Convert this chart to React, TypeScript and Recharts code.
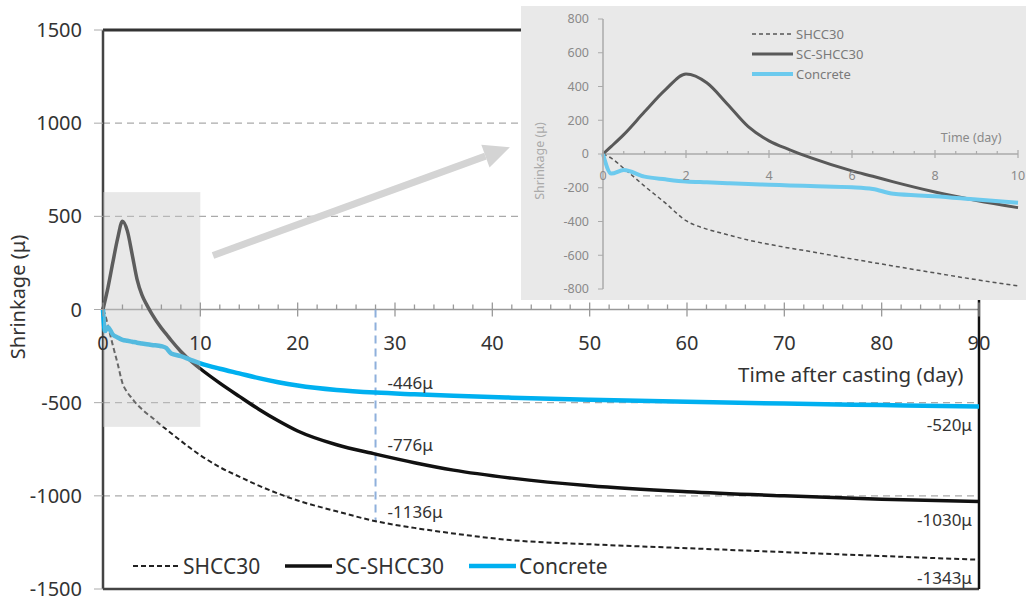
import React from "react";
import {
  LineChart,
  Line,
  XAxis,
  YAxis,
  ReferenceLine,
  ReferenceDot,
  Legend,
} from "recharts";

const FONT = '"Noto Sans", "Open Sans", sans-serif';

// time after casting (day)
const days = [0, 0.2, 0.5, 1, 1.5, 2, 2.5, 3, 3.5, 4, 4.5, 5, 6, 6.5, 7, 8, 9, 10, 12, 14, 16, 18, 20, 24, 28, 32, 36, 42, 50, 60, 70, 80, 90];
// shrinkage (μ)
const shcc30 = [0, -25, -85, -190, -290, -395, -445, -478, -510, -535, -558, -578, -622, -643, -664, -705, -745, -782, -846, -897, -945, -988, -1025, -1083, -1136, -1172, -1202, -1238, -1260, -1281, -1302, -1323, -1343];
const scShcc30 = [0, 45, 115, 250, 380, 474, 422, 295, 162, 78, 25, -22, -100, -132, -165, -225, -275, -318, -395, -466, -535, -597, -652, -726, -776, -822, -862, -905, -946, -978, -1000, -1018, -1030];
const concrete = [0, -116, -95, -134, -150, -163, -168, -173, -178, -182, -186, -190, -197, -207, -236, -250, -270, -289, -318, -343, -368, -390, -408, -432, -446, -455, -463, -473, -484, -495, -505, -513, -520];

const yTicks = [-1500, -1000, -500, 0, 500, 1000, 1500];
const gridValues = [1000, 500, -500, -1000];
const xTicks = [0, 2, 4, 6, 8, 10, 12, 14, 16, 18, 20, 22, 24, 26, 28, 30, 32, 34, 36, 38, 40, 42, 44, 46, 48, 50, 52, 54, 56, 58, 60, 62, 64, 66, 68, 70, 72, 74, 76, 78, 80, 82, 84, 86, 88, 90];
const insetYTicks = [-800, -600, -400, -200, 0, 200, 400, 600, 800];
const insetXTicks = [0, 0.5, 1, 1.5, 2, 2.5, 3, 3.5, 4, 4.5, 5, 5.5, 6, 6.5, 7, 7.5, 8, 8.5, 9, 9.5, 10];
const calloutDays = [28, 90];

const series = [
  { key: "shcc30", name: "SHCC30" },
  { key: "scShcc30", name: "SC-SHCC30" },
  { key: "concrete", name: "Concrete" },
];

type LineStyle = { stroke: string; width: number; dash?: string };

const mainStyle: Record<string, LineStyle> = {
  shcc30: { stroke: "#222", width: 2, dash: "5 3" },
  scShcc30: { stroke: "#111", width: 3.5 },
  concrete: { stroke: "#00b0f0", width: 4.5 },
};
const insetStyle: Record<string, LineStyle> = {
  shcc30: { stroke: "#555", width: 1.5, dash: "4 3" },
  scShcc30: { stroke: "#595959", width: 3 },
  concrete: { stroke: "#6ccaee", width: 4 },
};

const rows = days.map((d, i) => ({
  day: d,
  shcc30: shcc30[i],
  scShcc30: scShcc30[i],
  concrete: concrete[i],
}));
const insetRows = rows.filter((r) => r.day <= 10);

const W = 1026;
const H = 600;
const MAIN_M = { top: 30, right: 47, bottom: 10, left: 0 };
const MAIN_PLOT_H = H - MAIN_M.top - MAIN_M.bottom - 1;
const MAIN_ZERO = MAIN_M.top + MAIN_PLOT_H / 2;

const IW = 505;
const IH = 294;
const INSET_M = { top: 13, right: 8, bottom: 10, left: 0 };
const INSET_PLOT_H = IH - INSET_M.top - INSET_M.bottom - 1;
const INSET_ZERO = INSET_M.top + INSET_PLOT_H / 2;

function MainXTick(props: any) {
  const { x, payload } = props;
  const v = payload.value;
  const major = v % 10 === 0;
  return (
    <g>
      <line x1={x} x2={x} y1={MAIN_ZERO - (major ? 7 : 5)} y2={MAIN_ZERO + (major ? 7 : 0)} stroke="#999" strokeWidth={1.3} />
      {major && (
        <text x={x} y={MAIN_ZERO + 40} textAnchor="middle" fontSize={20} fill="#333">
          {v}
        </text>
      )}
    </g>
  );
}

function InsetXTick(props: any) {
  const { x, payload } = props;
  const v = payload.value;
  const major = v % 2 === 0;
  return (
    <g>
      <line x1={x} x2={x} y1={INSET_ZERO - (major ? 4 : 3)} y2={INSET_ZERO + (major ? 4 : 0)} stroke="#aaa" strokeWidth={1.2} />
      {major && (
        <text x={x} y={INSET_ZERO + 26} textAnchor="middle" fontSize={12.5} fill="#8a8a8a">
          {v}
        </text>
      )}
    </g>
  );
}

function ArrowShape(p: any) {
  const { x1, y1, x2, y2 } = p;
  const a = Math.atan2(y2 - y1, x2 - x1);
  const len = 26;
  const half = 12;
  const bx = x2 - len * Math.cos(a);
  const by = y2 - len * Math.sin(a);
  const nx = -Math.sin(a) * half;
  const ny = Math.cos(a) * half;
  return (
    <g>
      <line x1={x1} y1={y1} x2={bx} y2={by} stroke="#d4d4d4" strokeWidth={7} />
      <polygon points={`${x2},${y2} ${bx + nx},${by + ny} ${bx - nx},${by - ny}`} fill="#d4d4d4" />
    </g>
  );
}

// zoomed window (0-10 days) drawn as a translucent box over the curves
function ShadeShape(p: any) {
  const { x1, y1, x2, y2 } = p;
  return (
    <rect
      x={Math.min(x1, x2)}
      y={Math.min(y1, y2)}
      width={Math.abs(x2 - x1)}
      height={Math.abs(y2 - y1)}
      fill="#c8c8c8"
      fillOpacity={0.42}
    />
  );
}

const mainYLabel = () => (
  <text x={17} y={297} transform="rotate(-90 17 297)" textAnchor="middle" dominantBaseline="central" fontSize={20} fill="#333">
    Shrinkage (μ)
  </text>
);

const insetYLabel = () => (
  <text x={18} y={155} transform="rotate(-90 18 155)" textAnchor="middle" dominantBaseline="central" fontSize={12.5} fill="#aaa">
    Shrinkage (μ)
  </text>
);

const makeLegend = (
  styles: Record<string, LineStyle>,
  vertical: boolean,
  fontSize: number,
  color: string,
  lineW: number,
  rowH: number
) => () => (
  <div style={{ display: "flex", flexDirection: vertical ? "column" : "row", fontFamily: FONT, fontSize, color }}>
    {series.map((s) => {
      const st = styles[s.key];
      return (
        <div key={s.key} style={{ display: "flex", alignItems: "center", height: rowH, marginRight: vertical ? 0 : 25 }}>
          <svg width={lineW} height={10}>
            <line x1={0} y1={5} x2={lineW} y2={5} stroke={st.stroke} strokeWidth={st.width} strokeDasharray={st.dash} />
          </svg>
          <span style={{ marginLeft: 3, lineHeight: 1 }}>{s.name}</span>
        </div>
      );
    })}
  </div>
);

function textAt(text: string, dx: number, dy: number, anchor: string, size: number, fill: string) {
  return (p: any) => (
    <text x={p.cx + dx} y={p.cy + dy} textAnchor={anchor} dominantBaseline="central" fontSize={size} fill={fill}>
      {text}
    </text>
  );
}

export default function App() {
  const callouts = calloutDays.flatMap((d) => {
    const r = rows.find((row) => row.day === d)!;
    return series.map((s) => ({ day: d, value: (r as any)[s.key] as number }));
  });
  const day28 = rows.find((r) => r.day === 28)!;

  return (
    <div style={{ position: "absolute", left: 0, top: 0, width: W, height: H, fontFamily: FONT, background: "#fff" }}>
      <LineChart width={W} height={H} data={rows} margin={MAIN_M}>
        <XAxis
          type="number"
          dataKey="day"
          domain={[0, 90]}
          ticks={xTicks}
          interval={0}
          axisLine={false}
          tickLine={false}
          tickSize={0}
          height={1}
          tick={(p: any) => <MainXTick {...p} />}
        />
        <YAxis
          type="number"
          domain={[-1500, 1500]}
          ticks={yTicks}
          interval={0}
          width={103}
          axisLine={false}
          tickLine={{ stroke: "#aaa" }}
          tickSize={9}
          tickMargin={12}
          tick={{ fill: "#333", fontSize: 20 }}
          label={mainYLabel}
        />
        {gridValues.map((g) => (
          <ReferenceLine key={g} y={g} stroke="#aaa" strokeWidth={1.3} strokeDasharray="7 5" />
        ))}
        <ReferenceLine y={0} stroke="#999" strokeWidth={1.5} />
        <ReferenceLine y={1500} stroke="#333" strokeWidth={3} />
        <ReferenceLine y={-1500} stroke="#444" strokeWidth={2.5} />
        <ReferenceLine x={0} stroke="#444" strokeWidth={2.5} />
        <ReferenceLine x={90} stroke="#111" strokeWidth={2.5} />
        <ReferenceLine
          segment={[{ x: 11.3, y: 290 }, { x: 41.8, y: 871 }]}
          ifOverflow="visible"
          shape={ArrowShape}
        />
        <ReferenceLine
          segment={[{ x: 28, y: 0 }, { x: 28, y: day28.shcc30 }]}
          stroke="#8fb0dc"
          strokeWidth={2}
          strokeDasharray="8 5"
        />
        {series.map((s) => (
          <Line
            key={s.key}
            dataKey={s.key}
            name={s.name}
            type="monotone"
            stroke={mainStyle[s.key].stroke}
            strokeWidth={mainStyle[s.key].width}
            strokeDasharray={mainStyle[s.key].dash}
            dot={false}
            activeDot={false}
            isAnimationActive={false}
          />
        ))}
        <ReferenceLine
          segment={[{ x: 0, y: 630 }, { x: 10, y: -630 }]}
          ifOverflow="visible"
          zIndex={1500}
          shape={ShadeShape}
        />
        {callouts.map((c) => (
          <ReferenceDot
            key={`${c.day}-${c.value}`}
            x={c.day}
            y={c.value}
            r={0}
            ifOverflow="visible"
            shape={c.day === 90 ? textAt(`${c.value}μ`, -7, 18, "end", 17, "#333") : textAt(`${c.value}μ`, 12, -10, "start", 17, "#333")}
          />
        ))}
        <ReferenceDot x={88.4} y={0} r={0} ifOverflow="visible" shape={textAt("Time after casting (day)", 0, 64, "end", 20.5, "#333")} />
        <Legend
          layout="horizontal"
          verticalAlign="middle"
          align="center"
          wrapperStyle={{ left: 133, top: 553, width: 620 }}
          content={makeLegend(mainStyle, false, 21, "#333", 47, 26)}
        />
      </LineChart>

      <div style={{ position: "absolute", left: 521, top: 6, width: IW, height: IH, background: "#e9e9e9" }}>
        <LineChart width={IW} height={IH} data={insetRows} margin={INSET_M}>
          <XAxis
            type="number"
            dataKey="day"
            domain={[0, 10]}
            ticks={insetXTicks}
            interval={0}
            axisLine={false}
            tickLine={false}
            tickSize={0}
            height={1}
            tick={(p: any) => <InsetXTick {...p} />}
          />
          <YAxis
            type="number"
            domain={[-800, 800]}
            ticks={insetYTicks}
            interval={0}
            width={82}
            axisLine={{ stroke: "#aaa", strokeWidth: 1.5 }}
            tickLine={{ stroke: "#aaa" }}
            tickSize={5}
            tickMargin={9}
            tick={{ fill: "#8a8a8a", fontSize: 12.5 }}
            label={insetYLabel}
          />
          <ReferenceLine y={0} stroke="#aaa" strokeWidth={1.5} />
          {series.map((s) => (
            <Line
              key={s.key}
              dataKey={s.key}
              name={s.name}
              type="monotone"
              stroke={insetStyle[s.key].stroke}
              strokeWidth={insetStyle[s.key].width}
              strokeDasharray={insetStyle[s.key].dash}
              dot={false}
              activeDot={false}
              isAnimationActive={false}
            />
          ))}
          <ReferenceDot x={8.87} y={100} r={0} ifOverflow="visible" shape={textAt("Time (day)", 0, 0, "middle", 12.5, "#8a8a8a")} />
          <Legend
            layout="horizontal"
            verticalAlign="middle"
            align="center"
            wrapperStyle={{ left: 231, top: 18, width: 200 }}
            content={makeLegend(insetStyle, true, 13, "#7a7a7a", 41, 20)}
          />
        </LineChart>
      </div>
    </div>
  );
}
